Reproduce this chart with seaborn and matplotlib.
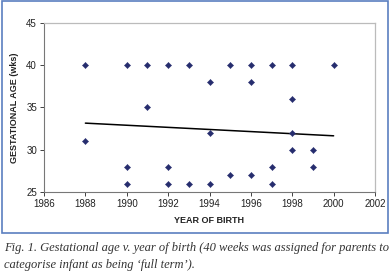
import matplotlib
matplotlib.use("Agg")
import matplotlib.pyplot as plt
import seaborn as sns
import pandas as pd
from matplotlib.patches import Rectangle

years = [1988, 1988, 1990, 1990, 1990, 1991, 1991, 1992, 1992, 1992, 1993, 1993,
         1994, 1994, 1994, 1995, 1995, 1996, 1996, 1996, 1997, 1997, 1997,
         1998, 1998, 1998, 1998, 1999, 1999, 2000]
ages = [40, 31, 40, 28, 26, 40, 35, 40, 28, 26, 40, 26,
        38, 32, 26, 40, 27, 40, 38, 27, 40, 28, 26,
        40, 36, 32, 30, 30, 28, 40]
# linear trend line (endpoints)
trend_years = [1988, 2000]
trend_ages = [33.15, 31.65]
x_ticks = [1986, 1988, 1990, 1992, 1994, 1996, 1998, 2000, 2002]
y_ticks = [25, 30, 35, 40, 45]

df = pd.DataFrame({"year": years, "age": ages})
trend = pd.DataFrame({"year": trend_years, "age": trend_ages})

sns.set_style("white")
plt.rcParams["font.family"] = ["Liberation Sans", "DejaVu Sans"]

W, H = 391, 280
fig = plt.figure(figsize=(W / 100, H / 100), dpi=100)
fig.patch.set_facecolor("white")

fig.add_artist(Rectangle((2 / W, 1 - 233 / H), 386 / W, 232 / H, transform=fig.transFigure,
                         fill=False, edgecolor="#5b7fc0", linewidth=1.2))

ax = fig.add_axes([44 / W, 1 - 192 / H, 331 / W, 169 / H])
sns.scatterplot(data=df, x="year", y="age", ax=ax, marker="D", s=10,
                color="#262d6e", edgecolor="#262d6e", linewidth=0.3, zorder=3)
sns.lineplot(data=trend, x="year", y="age", ax=ax, color="black", linewidth=1.1)

ax.set_xlim(1986, 2002)
ax.set_ylim(25, 45)
ax.set_xticks(x_ticks)
ax.set_yticks(y_ticks)
ax.tick_params(axis="both", labelsize=7, length=3, width=0.6, direction="out",
               colors="#222222", pad=2)
ax.tick_params(axis="both", which="both", bottom=True, left=True)
for side in ["top", "right"]:
    ax.spines[side].set_color("#bbbbbb")
    ax.spines[side].set_linewidth(0.9)
for side in ["left", "bottom"]:
    ax.spines[side].set_color("#777777")
    ax.spines[side].set_linewidth(0.8)
ax.set_xlabel("YEAR OF BIRTH", fontsize=6.5, fontweight="bold", color="#222222", labelpad=5)
ax.set_ylabel("GESTATIONAL AGE (wks)", fontsize=6.5, fontweight="bold", color="#222222", labelpad=5)

serif = ["Liberation Serif", "DejaVu Serif"]
fig.text(4 / W, 1 - 248 / H,
         "Fig. 1. Gestational age v. year of birth (40 weeks was assigned for parents to",
         family=serif, style="italic", fontsize=9, color="#333333", va="center", ha="left")
fig.text(4 / W, 1 - 265 / H,
         "categorise infant as being \u2018full term\u2019).",
         family=serif, style="italic", fontsize=9, color="#333333", va="center", ha="left")

fig.savefig("out.png", dpi=100, facecolor="white")
